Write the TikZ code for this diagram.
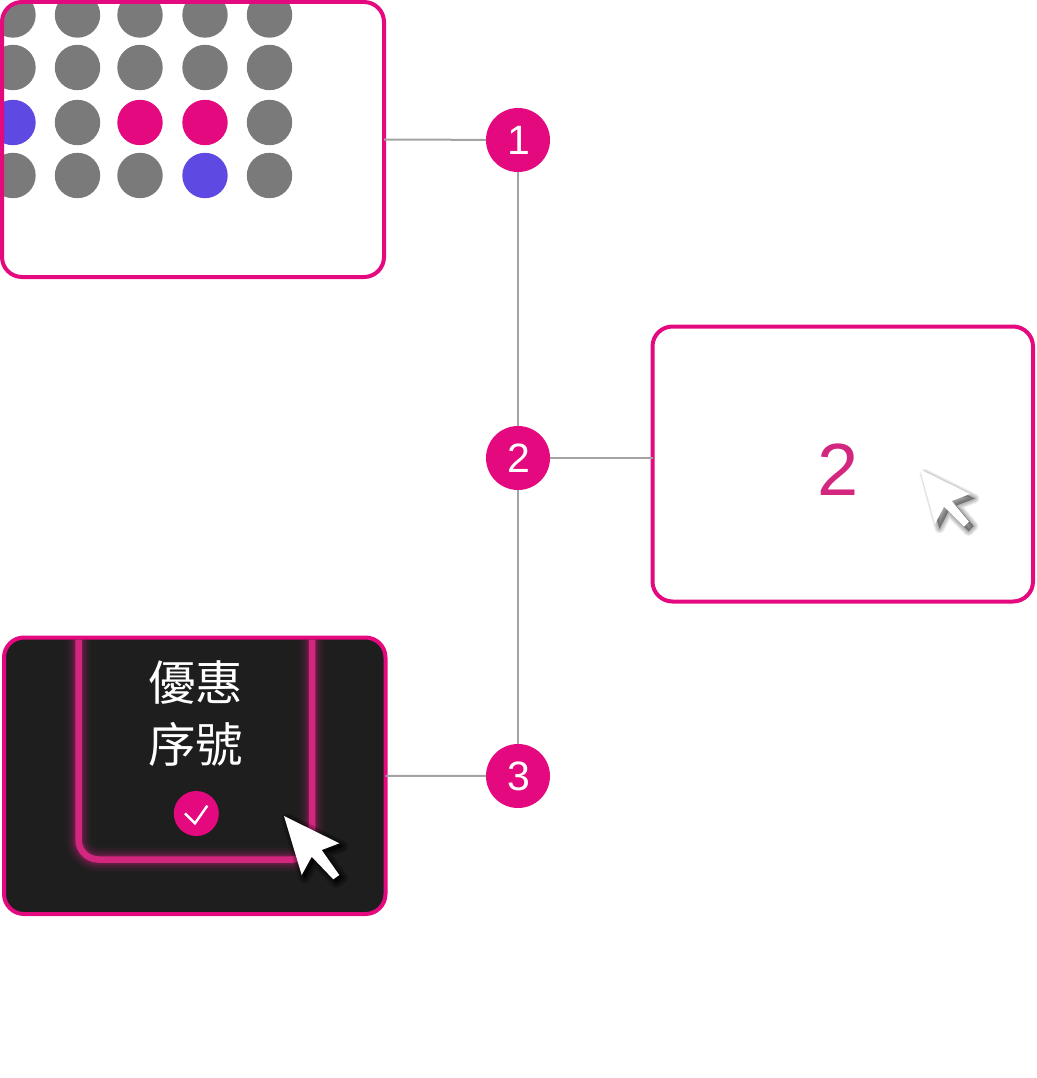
\documentclass[tikz,border=0pt]{standalone}
\usepackage{fontspec}
\setmainfont{Liberation Sans}
\newfontfamily\cjkfont{Noto Sans CJK TC}
\definecolor{mag}{HTML}{E5097F}
\definecolor{neon}{HTML}{D2267F}
\definecolor{dotgray}{HTML}{7A7A7A}
\definecolor{dotblue}{HTML}{5E4AE3}
\definecolor{darkbg}{HTML}{1E1E1E}
\definecolor{linegray}{HTML}{A3A3A3}
\tikzset{
  panel/.style={draw=mag,line width=4pt,rounded corners=20pt,inner sep=0pt,outer sep=0pt},
  badge/.style={circle,fill=mag,text=white,minimum size=64pt,inner sep=0pt,outer sep=0pt,font=\fontsize{41}{41}\selectfont},
  link/.style={draw=linegray,line width=2pt},
  dotg/.style={fill=dotgray},
  dotb/.style={fill=dotblue},
  dotm/.style={fill=mag},
}
\def\cursorA{(284,816) -- (339.3,843.3) -- (321.7,850) -- (339.3,875) -- (333.3,879.3) -- (311.7,856.7) -- (301.7,875) -- cycle}
\def\cursorB{(920,469.3) -- (970,494) -- (951.7,501) -- (969,521.7) -- (964,526.7) -- (944,506.7) -- (935,524) -- cycle}
\begin{document}
\begin{tikzpicture}[x=1pt,y=-1pt]
\useasboundingbox (0,0) rectangle (1036,1078);
\fill[white] (0,0) rectangle (1036,1078);
% panel 1 dots
\begin{scope}
\clip[rounded corners=20pt] (2,2) rectangle (384,277);
\foreach \x/\y/\s in {13/15/dotg,77.5/15/dotg,140/15/dotg,205/15/dotg,269.5/15/dotg,
 13/67.5/dotg,77.5/67.5/dotg,140/67.5/dotg,205/67.5/dotg,269.5/67.5/dotg,
 13/122.5/dotb,77.5/122.5/dotg,140/122.5/dotm,205/122.5/dotm,269.5/122.5/dotg,
 13/175.5/dotg,77.5/175.5/dotg,140/175.5/dotg,205/175.5/dotb,269.5/175.5/dotg}
  \fill[\s] (\x,\y) circle[radius=22.7];
\end{scope}
\node[panel,minimum width=382pt,minimum height=275pt] (p1) at (193,139.5) {};
% panel 2
\node[panel,minimum width=380.5pt,minimum height=275pt] (p2) at (842.75,464) {};
\node[text=neon,font=\fontsize{74}{74}\selectfont] (two) at (838,470) {2};
\foreach \w in {10,8.5,7,5.5,4,2.5,1,.1}
  \fill[black,opacity=.05,draw=black,line width=\w pt,line join=round,shift={(4.5,4.5)}] \cursorB;
\fill[white] \cursorB;
% panel 3
\node[panel,fill=darkbg,minimum width=381.5pt,minimum height=276.5pt] (p3) at (194.75,775.75) {};
\begin{scope}
\clip[rounded corners=18pt] (6,639.5) rectangle (383.5,912);
\foreach \w/\o in {26/.03,23/.04,20/.05,17/.07,14/.09,11/.12,9/.12}
  \draw[neon,opacity=\o,line width=\w pt,rounded corners=20pt] (78.5,630) -- (78.5,859.5) -- (312,859.5) -- (312,630);
\draw[neon,line width=6.5pt,rounded corners=20pt] (78.5,630) -- (78.5,859.5) -- (312,859.5) -- (312,630);
\end{scope}
\node[text=white,align=center,font=\cjkfont\fontsize{47.5}{62}\selectfont] (label) at (195.5,714) {優惠\\序號};
\node[circle,fill=mag,minimum size=45pt,inner sep=0pt] (ok) at (196.3,813.5) {};
\draw[white,line width=2.4pt] (185,813.3) -- (195,823.3) -- (207.3,805.7);
\foreach \w in {12,10,8,6,4,2,.1}
  \fill[black,opacity=.1,draw=black,line width=\w pt,line join=round,shift={(3,3)}] \cursorA;
\fill[white] \cursorA;
% badges
\node[badge] (b1) at (518,140) {\kern1pt 1};
\node[badge] (b2) at (518,458) {\kern1pt 2};
\node[badge] (b3) at (518,776) {\kern1pt 3};
% connectors
\draw[link] (b1) -- (b2);
\draw[link] (b2) -- (b3);
\draw[link] (p1.east) -- (b1);
\draw[link] (b2) -- ([yshift=6pt]p2.west);
\draw[link] (p3.east) -- (b3);
\end{tikzpicture}
\end{document}
